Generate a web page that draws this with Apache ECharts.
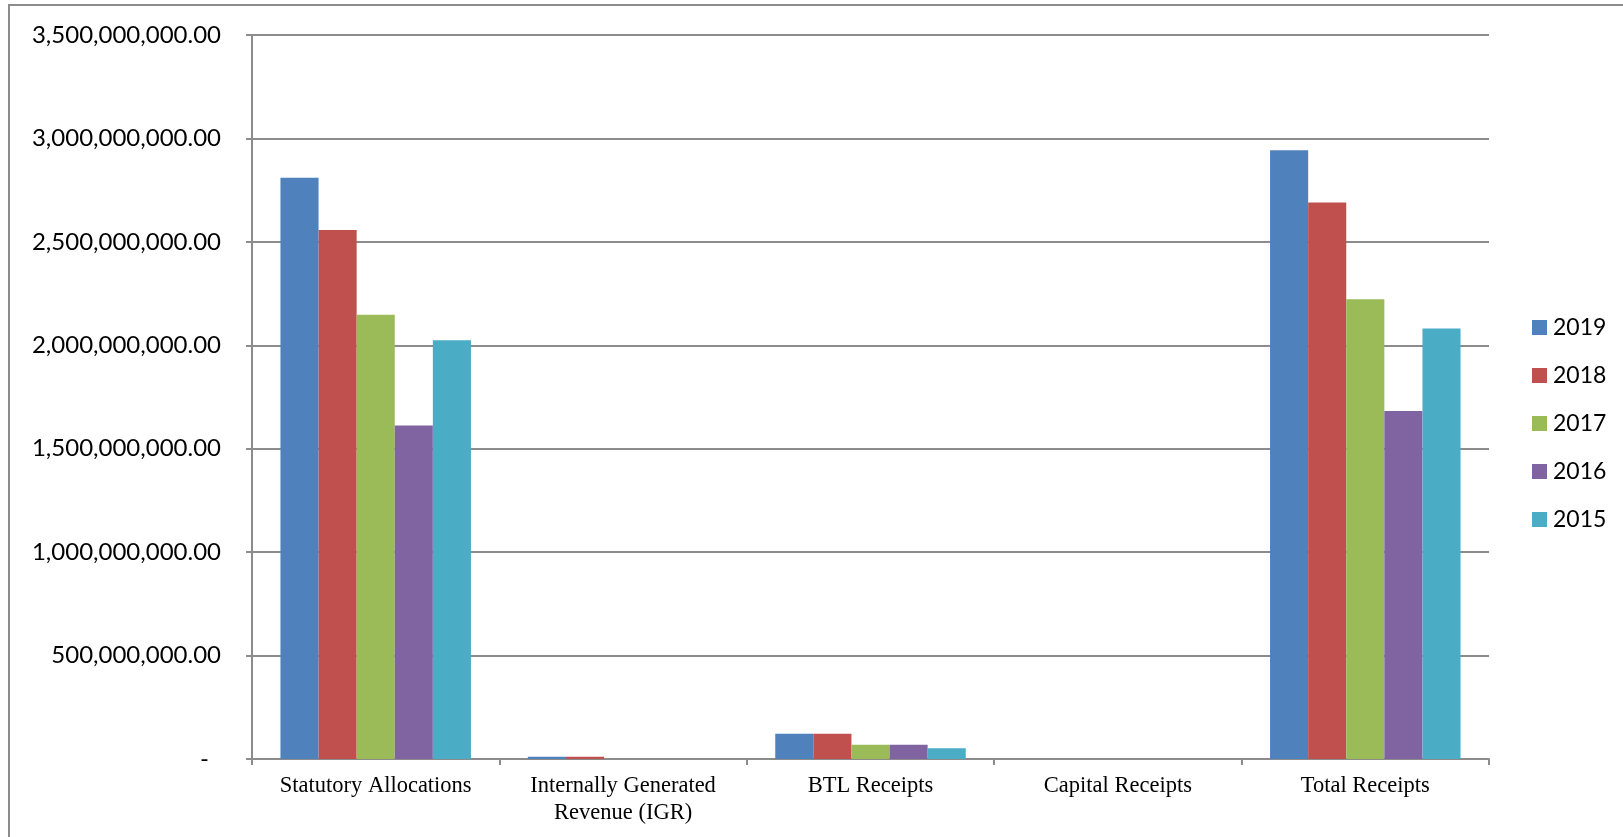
<!DOCTYPE html>
<html>
<head>
<meta charset="utf-8">
<script src="https://cdn.jsdelivr.net/npm/echarts@6/dist/echarts.min.js"></script>
<style>
  html, body { margin: 0; padding: 0; background: #fff; }
  #chart { width: 1623px; height: 837px; }
</style>
</head>
<body>
<div id="chart"></div>
<script>
// Receipt categories along the x axis
const categories = [
  'Statutory Allocations',
  'Internally Generated\nRevenue (IGR)',
  'BTL Receipts',
  'Capital Receipts',
  'Total Receipts'
];

// Yearly receipts per category
const years = ['2019', '2018', '2017', '2016', '2015'];
const values2019 = [2810000000, 11000000, 122000000, 0, 2943000000];
const values2018 = [2557000000, 11000000, 122000000, 0, 2690000000];
const values2017 = [2148000000, 0, 69000000, 0, 2223000000];
const values2016 = [1612000000, 0, 69000000, 0, 1682000000];
const values2015 = [2024000000, 0, 51500000, 0, 2081000000];
const seriesValues = [values2019, values2018, values2017, values2016, values2015];

const colors = ['#4f81bd', '#c0504d', '#9bbb59', '#8064a2', '#4bacc6'];

const gridColor = '#8c8c8c';

function formatAmount(v) {
  if (v === 0) return '{z|-}';
  return v.toLocaleString('en-US', { minimumFractionDigits: 2, maximumFractionDigits: 2 });
}

const chart = echarts.init(document.getElementById('chart'), null, { renderer: 'canvas' });

chart.setOption({
  animation: false,
  backgroundColor: '#fff',
  color: colors,
  graphic: [{
    type: 'rect',
    shape: { x: 9, y: 5, width: 1640, height: 860 },
    style: { fill: 'none', stroke: '#8c8c8c', lineWidth: 2 },
    silent: true,
    z: -1
  }],
  grid: { left: 252, right: 134, top: 35, bottom: 78, containLabel: false },
  legend: {
    orient: 'vertical',
    left: 1527,
    top: 311,
    itemWidth: 15,
    itemHeight: 15,
    itemGap: 25,
    icon: 'rect',
    textStyle: { fontFamily: 'Lato', fontSize: 23, color: '#000', padding: [0, 0, 0, 1] },
    data: years
  },
  xAxis: {
    type: 'category',
    data: categories,
    axisLine: { lineStyle: { color: gridColor, width: 2 } },
    axisTick: { show: true, alignWithLabel: false, length: 6, lineStyle: { color: gridColor, width: 2 } },
    axisLabel: {
      interval: 0,
      margin: 14,
      fontFamily: 'Liberation Serif',
      fontSize: 22.5,
      lineHeight: 27,
      color: '#000'
    }
  },
  yAxis: {
    type: 'value',
    min: 0,
    max: 3500000000,
    interval: 500000000,
    axisLine: { show: true, lineStyle: { color: gridColor, width: 2 } },
    axisTick: { show: true, length: 6, lineStyle: { color: gridColor, width: 2 } },
    splitLine: { show: true, lineStyle: { color: gridColor, width: 2 } },
    axisLabel: {
      margin: 31,
      fontFamily: 'Lato',
      fontSize: 24,
      color: '#000',
      formatter: formatAmount,
      rich: { z: { fontFamily: 'Lato', fontSize: 24, color: '#000', padding: [0, 12, 0, 0] } }
    }
  },
  series: years.map((y, i) => ({
    name: y,
    type: 'bar',
    data: seriesValues[i],
    barGap: '0%',
    barCategoryGap: '23%',
    itemStyle: { color: colors[i] }
  }))
});
</script>
</body>
</html>
